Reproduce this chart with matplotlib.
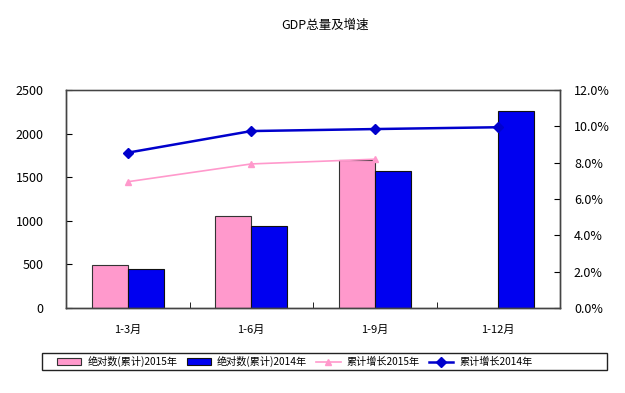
import numpy as np
import matplotlib.pyplot as plt
from matplotlib.patches import Rectangle

plt.rcParams['font.family'] = ['Noto Sans CJK SC', 'DejaVu Sans']

# Data
periods = ['1-3月', '1-6月', '1-9月', '1-12月']
total_2015 = [493, 1058, 1697, np.nan]
total_2014 = [444, 944, 1571, 2259]
growth_2015 = [6.95, 7.93, 8.19, np.nan]
growth_2014 = [8.55, 9.74, 9.85, 9.95]

x = np.arange(len(periods))
w = 0.29

fig = plt.figure(figsize=(6.25, 3.93), dpi=100)
ax1 = fig.add_axes([66 / 625, 1 - 308 / 393, 494 / 625, 218 / 393])
ax2 = ax1.twinx()

b1 = ax1.bar(x - w / 2, total_2015, w, color='#FF99CC', edgecolor='#333333', linewidth=0.8,
             label='绝对数(累计)2015年', zorder=2)
b2 = ax1.bar(x + w / 2, total_2014, w, color='#0000F0', edgecolor='#111111', linewidth=0.8,
             label='绝对数(累计)2014年', zorder=2)

l1, = ax2.plot(x, growth_2015, color='#FF99CC', marker='^', markersize=5, linewidth=1.2,
               label='累计增长2015年')
l2, = ax2.plot(x, growth_2014, color='#0000CC', marker='D', markersize=5, linewidth=1.8,
               label='累计增长2014年')

ax1.set_xlim(-0.5, 3.5)
ax1.set_ylim(0, 2500)
ax1.set_yticks(range(0, 2501, 500))
ax2.set_ylim(0, 12)
ax2.set_yticks(np.arange(0, 12.1, 2))
ax2.set_yticklabels(['%.1f%%' % v for v in np.arange(0, 12.1, 2)])

ax1.set_xticks(x)
ax1.set_xticklabels(periods)
ax1.set_xticks(np.arange(0.5, 3.5, 1), minor=True)
ax1.tick_params(axis='x', which='major', length=0, pad=12, labelsize=8)
ax1.tick_params(axis='x', which='minor', direction='in', length=4)
ax1.tick_params(axis='y', direction='in', length=4, labelsize=9, pad=16)
ax2.tick_params(axis='y', direction='in', length=4, labelsize=9, pad=10)

for ax in (ax1, ax2):
    for s in ax.spines.values():
        s.set_color('#444444')
        s.set_linewidth(1)
ax1.spines['top'].set_color('#999999')

fig.text(0.52, 1 - 25 / 393, 'GDP总量及增速', ha='center', va='center', fontsize=9)

# legend box
fig.patches.append(Rectangle((42 / 625, 1 - 370 / 393), 565 / 625, 17 / 393,
                             transform=fig.transFigure, fill=False,
                             edgecolor='#222222', linewidth=1))
leg = fig.legend(handles=[b1, b2, l1, l2], loc='center left', ncol=4,
                 bbox_to_anchor=(52 / 625, 1 - 361.5 / 393),
                 fontsize=7.3, frameon=False, handlelength=2.4, handleheight=0.6,
                 borderpad=0, handletextpad=0.6, columnspacing=0.9)

fig.savefig('out.png', dpi=100)
